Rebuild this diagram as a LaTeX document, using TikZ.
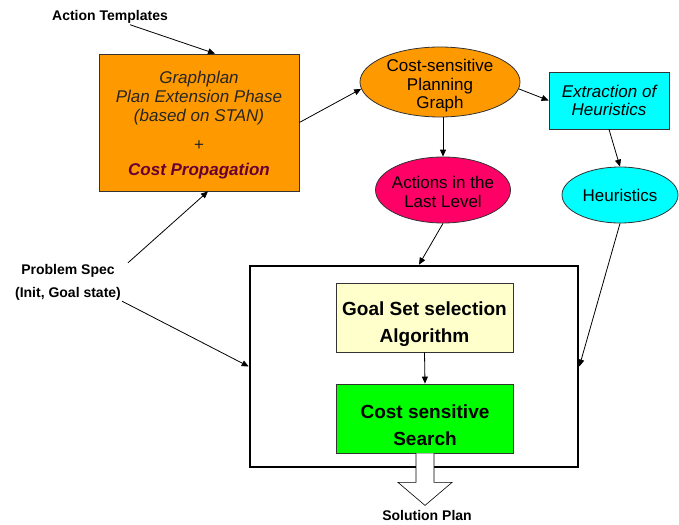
\documentclass[tikz,border=0pt]{standalone}
\usepackage{fontspec}
\setmainfont{Liberation Sans}
\definecolor{planorange}{HTML}{FF9900}
\definecolor{heurcyan}{HTML}{00FFFF}
\definecolor{lastpink}{HTML}{FF0066}
\definecolor{goalyellow}{HTML}{FFFFCC}
\definecolor{searchgreen}{HTML}{00FF00}
\definecolor{costred}{HTML}{660033}
\usetikzlibrary{arrows.meta, shapes.geometric}

\begin{document}
\begin{tikzpicture}[
      x=1pt, y=-1pt,
      stage/.style={
          draw=black!80,
          line width=0.8pt,
          align=center,
          inner sep=0pt,
          font=\fontsize{17}{18}\selectfont
        },
      planbox/.style={
          stage,
          fill=planorange,
          minimum width=200pt,
          minimum height=137pt,
          text=black!85,
          font=\fontsize{17}{19}\selectfont\itshape
        },
      blob/.style={
          stage,
          ellipse
        },
      inner/.style={
          stage,
          minimum width=177pt,
          minimum height=69pt,
          font=\fontsize{19}{27}\selectfont\bfseries
        },
      tag/.style={font=\fontsize{14}{23}\selectfont\bfseries, align=center, inner sep=1pt},
      flow/.style={-{Triangle[length=7pt,width=6pt]}, line width=0.8pt}
    ]
    \useasboundingbox (0,0) rectangle (679,524);

    \node[tag] (templ) at (110,17) {Action Templates};
    \node[tag] (spec) at (68,282) {Problem Spec\\(Init, Goal state)};

    \node[planbox] (plan) at (199,122.5) {\rule{0pt}{17pt}Graphplan\\Plan Extension Phase\\(based on STAN)\\[10pt]
      \upshape +\\[6pt]\textcolor{costred}{\bfseries Cost Propagation}};

    \node[blob, fill=planorange, minimum width=160pt, minimum height=70pt,
      label={[align=center, font=\fontsize{17}{18.5}\selectfont, yshift=-4pt]center:Cost-sensitive\\Planning\\Graph}]
      (cspg) at (440,82) {};
    \node[stage, fill=heurcyan, minimum width=120pt, minimum height=57pt,
      font=\fontsize{17}{18}\selectfont\itshape] (extract) at (609,100.5) {Extraction of\\Heuristics};
    \node[blob, fill=lastpink, minimum width=135pt, minimum height=66pt,
      label={[align=center, font=\fontsize{17}{19}\selectfont, yshift=-2pt]center:Actions in the\\Last Level}]
      (actions) at (443,190) {};
    \node[blob, fill=heurcyan, minimum width=116pt, minimum height=56pt] (heur) at (620,195) {Heuristics};

    % planner block with its two stages
    \node[draw, line width=2.6pt, minimum width=328pt, minimum height=201pt] (frame) at (414,366.5) {};
    \node[inner, fill=goalyellow] (goal) at (424.5,317.5) {\rule{0pt}{28pt}Goal Set selection\\Algorithm};
    \node[inner, fill=searchgreen] (search) at (425,418.5) {\rule{0pt}{28pt}Cost sensitive\\Search};

    \node[tag] (sol) at (427,515) {Solution Plan};

    \draw[flow] ([xshift=20pt]templ.south) -- ([xshift=16pt]plan.north);
    \draw[flow] ([xshift=60pt]spec.north) -- ([xshift=9pt]plan.south);
    \draw[flow] (spec.south east) -- (frame.west);
    \draw[flow] (plan.east) -- (cspg.185);
    \draw[flow] (cspg.355) -- (extract.west);
    \draw[flow] (extract.south) -- (heur.north);
    \draw[flow] (actions.north |- cspg.south) -- (actions.north);
    \draw[flow] (actions.south) -- ([xshift=5pt]frame.north);
    \draw[flow] (heur.south) -- (frame.east);
    \draw[flow] (goal.south) -- (search.north);

    % hollow output arrow
    \draw[fill=white, line width=0.6pt] ([xshift=-9pt]search.south) -- ++(0,29) -- ++(-18,0)
      -- ++(27,23) coordinate (tip) -- ++(27,-23) -- ++(-18,0) -- ++(0,-29);
  \end{tikzpicture}
\end{document}
